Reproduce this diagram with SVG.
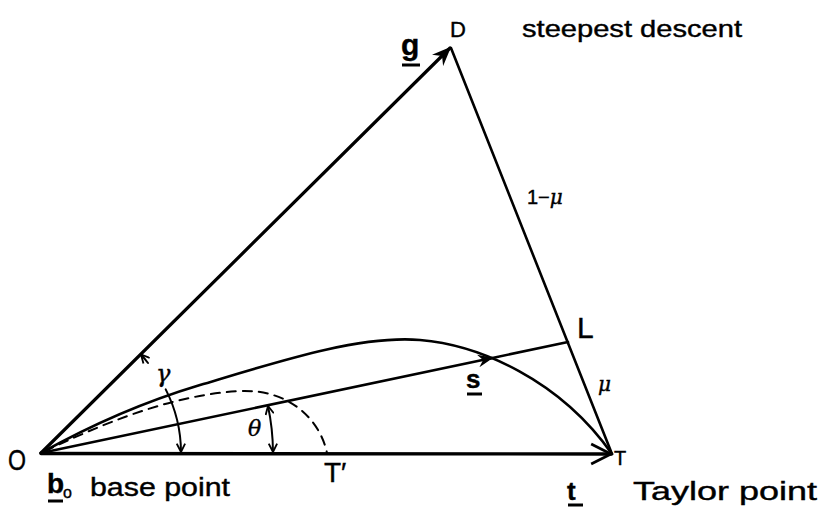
<svg xmlns="http://www.w3.org/2000/svg" width="822" height="511" viewBox="0 0 822 511">
<defs>
<style>
.ln{stroke:#000;fill:none;stroke-linecap:round;stroke-linejoin:round}
.t{font-family:"Liberation Sans",Arial,sans-serif;fill:#000;stroke:#000;stroke-width:0.4}
.b{font-weight:bold}
.i{font-style:italic;font-family:"DejaVu Serif","Liberation Serif",serif}
</style>
<marker id="barb" viewBox="0 0 12 10" refX="11" refY="5" markerWidth="6" markerHeight="5" orient="auto" markerUnits="strokeWidth">
<path d="M0,0 L12,5 L0,10 L4,5 z" fill="#000"/>
</marker>
<marker id="vee" viewBox="0 0 12 12" refX="11" refY="6" markerWidth="7" markerHeight="7" orient="auto" markerUnits="strokeWidth">
<path d="M1,1 L11,6 L1,11" fill="none" stroke="#000" stroke-width="1.4"/>
</marker>
<marker id="small" viewBox="0 0 12 12" refX="11" refY="6" markerWidth="5" markerHeight="5" orient="auto-start-reverse" markerUnits="strokeWidth">
<path d="M1,1 L11,6 L1,11" fill="none" stroke="#000" stroke-width="2.2"/>
</marker>
</defs>
<rect width="822" height="511" fill="#fff"/>

<g id="connectors">
<line class="ln" x1="41" y1="453" x2="450" y2="48" stroke-width="3.2" marker-end="url(#barb)"/>
<line class="ln" x1="41" y1="453.5" x2="611" y2="454" stroke-width="3.4" marker-end="url(#vee)"/>
<line class="ln" x1="451" y1="48" x2="612" y2="454" stroke-width="2.6"/>
<line class="ln" x1="41" y1="453" x2="492" y2="358" stroke-width="2.6" marker-end="url(#barb)"/>
<line class="ln" x1="490" y1="358.5" x2="568" y2="342" stroke-width="2.6"/>
<path class="ln" d="M41,453 C100,420 150,400 200,385 C280,361 360,335 420,340 C480,345 560,380 612,454" stroke-width="2.6"/>
<path class="ln" d="M45,451 C100,425 170,395 240,391 C290,389 320,420 327,453" stroke-width="2" stroke-dasharray="9,7"/>
<path class="ln" d="M148,363 A140,140 0 0 0 141,354.5" stroke-width="2" marker-end="url(#small)"/>
<path class="ln" d="M165.7,389.4 A140,140 0 0 1 181,452" stroke-width="2" marker-end="url(#small)"/>
<path class="ln" d="M268,406 A232,232 0 0 1 273,452" stroke-width="2" marker-start="url(#small)" marker-end="url(#small)"/>
</g>

<g id="node-D">
<text class="t" x="450" y="37" font-size="22">D</text>
<text class="t" x="522" y="37" font-size="24" textLength="220" lengthAdjust="spacingAndGlyphs">steepest descent</text>
</g>
<g id="label-g">
<text class="t b" x="401" y="55" font-size="30">g</text>
<line x1="402" y1="65" x2="420" y2="65" stroke="#000" stroke-width="3"/>
</g>
<g id="label-1mu">
<text class="t" x="527" y="204" font-size="20">1−<tspan class="i">μ</tspan></text>
</g>
<g id="node-L">
<text class="t" x="577" y="338" font-size="30">L</text>
</g>
<g id="label-mu">
<text class="t i" x="598" y="391" font-size="20">μ</text>
</g>
<g id="label-s">
<text class="t b" x="466" y="388" font-size="26">s</text>
<line x1="467" y1="394" x2="482" y2="394" stroke="#000" stroke-width="3"/>
</g>
<g id="label-gamma">
<text class="t i" x="156" y="382" font-size="24">γ</text>
</g>
<g id="label-theta">
<text class="t i" x="248" y="436" font-size="22">θ</text>
</g>
<g id="node-O">
<text class="t" x="8" y="470" font-size="30" textLength="18" lengthAdjust="spacingAndGlyphs">O</text>
<text class="t b" x="47" y="493" font-size="28">b</text>
<text class="t" x="63" y="498" font-size="16">o</text>
<line x1="48" y1="501" x2="63" y2="501" stroke="#000" stroke-width="3"/>
<text class="t" x="90" y="496" font-size="26" textLength="140" lengthAdjust="spacingAndGlyphs">base point</text>
</g>
<g id="node-Tprime">
<text class="t" x="324" y="482" font-size="28">T′</text>
</g>
<g id="node-T">
<text class="t" x="614" y="465" font-size="20">T</text>
<text class="t b" x="567" y="500" font-size="26">t</text>
<line x1="568" y1="505" x2="583" y2="505" stroke="#000" stroke-width="3"/>
<text class="t" x="633" y="500" font-size="26" textLength="184" lengthAdjust="spacingAndGlyphs">Taylor point</text>
</g>
</svg>
